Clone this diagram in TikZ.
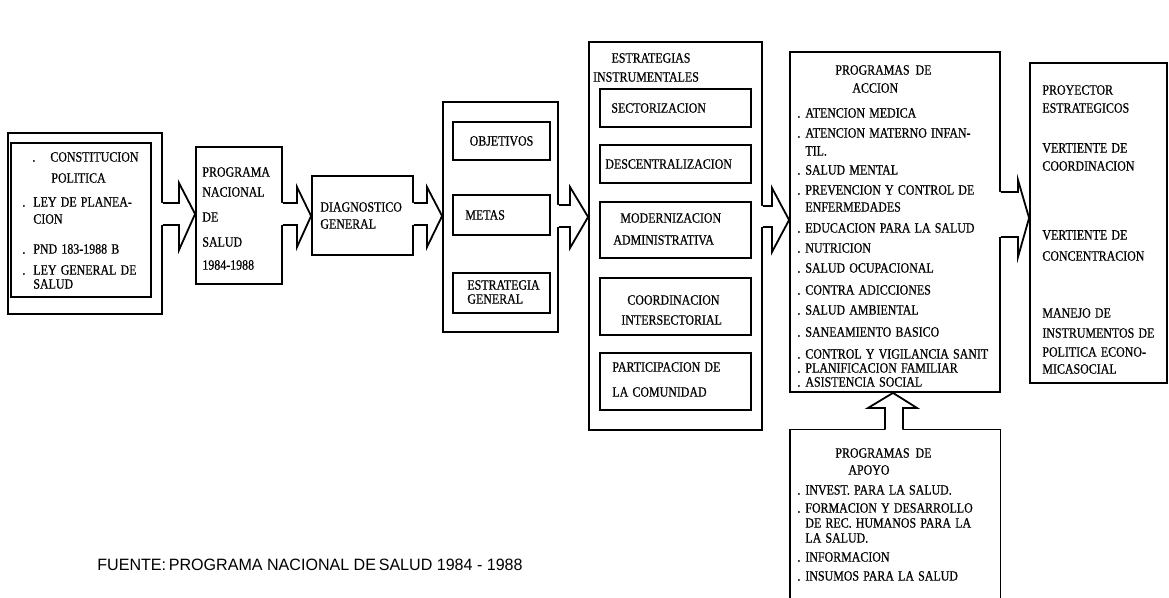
\documentclass[tikz,border=0pt]{standalone}
\usepackage{fontspec}
\setmainfont{Liberation Serif}
\newfontfamily\typ[FakeStretch=0.84,WordSpace=1.4,FakeBold=0.6]{Liberation Serif}
\newfontfamily\fte[FakeStretch=0.98]{Liberation Sans}
\usetikzlibrary{fit,calc}
\newcommand\dotb[1][5.5pt]{\makebox[#1][l]{.}}
\tikzset{
  box/.style={draw, line width=0.9pt, inner sep=0pt},
  txt/.style={anchor=west, inner sep=0pt, font=\typ\fontsize{7.1pt}{8pt}\selectfont},
  ctxt/.style={txt, anchor=center},
  arr/.style={line width=0.9pt, line join=miter},
}
\newcommand\blkarrow[8]{%
  \fill[white] ($(#1.east |- 0,#3)+(-2,0)$) -- (#5,#3) -- (#5,#6) -- (#2.west |- 0,#8) -- (#5,#7) -- (#5,#4) -- ($(#1.east |- 0,#4)+(-2,0)$) -- cycle;
  \draw[arr] (#1.east |- 0,#3) -- (#5,#3) -- (#5,#6) -- (#2.west |- 0,#8) -- (#5,#7) -- (#5,#4) -- (#1.east |- 0,#4);
}
\begin{document}
\begin{tikzpicture}[x=0.5pt,y=-0.5pt]
\useasboundingbox (0,0) rectangle (1169,598);
% boxes
\node[box, fit={(8,133)(162,314)}] (Lout) {};
\node[box, fit={(11,143)(151,297)}] (Lin) {};
\node[box, fit={(196,147)(282,284)}] (Pnal) {};
\node[box, fit={(312,176)(413,255)}] (Diag) {};
\node[box, fit={(443,102)(558,332)}] (Obj) {};
\node[box, fit={(453,122)(550,160)}] (Objv) {};
\node[box, fit={(453,195)(550,235)}] (Metas) {};
\node[box, fit={(453,273)(550,313)}] (EstG) {};
\node[box, fit={(589,42)(762,430)}] (Estr) {};
\node[box, fit={(600,89)(751,127)}] (Sect) {};
\node[box, fit={(600,145)(751,183)}] (Desc) {};
\node[box, fit={(600,202)(751,258)}] (Mod) {};
\node[box, fit={(600,278)(751,335)}] (Coord) {};
\node[box, fit={(600,353)(751,410)}] (Part) {};
\node[box, fit={(790,52)(1000,392)}] (Acc) {};
\node[box, fit={(1030,63)(1167,383)}] (Proy) {};
\node[inner sep=0pt, fit={(790,430)(1000,598)}] (Apoyo) {};
\draw[arr] (Apoyo.south west) -- (Apoyo.north west) -- (Apoyo.north east) -- (Apoyo.south east);
% block arrows
\blkarrow{Lout}{Pnal}{203}{225}{179}{183}{250}{214}
\blkarrow{Pnal}{Diag}{203}{225}{297}{187}{247}{216}
\blkarrow{Diag}{Obj}{203}{225}{427}{187}{247}{216}
\blkarrow{Obj}{Estr}{205}{227}{570}{187}{248}{217}
\blkarrow{Estr}{Acc}{206}{227}{772}{188}{252}{220}
\blkarrow{Acc}{Proy}{192}{237}{1018}{180}{257}{218}
\fill[white] (885,432) -- (885,408) -- (868,408) -- (893,0 |- Acc.south) -- (917,408) -- (903,408) -- (903,432) -- cycle;
\draw[arr] (885,0 |- Apoyo.north) -- (885,408) -- (868,408) -- (893,0 |- Acc.south) -- (917,408) -- (903,408) -- (903,0 |- Apoyo.north);
% left list
\node[txt] (l1) at (32,157) {\dotb[9pt]CONSTITUCION};
\node[txt] (l2) at (51,178) {POLITICA};
\node[txt] (l3) at (22,202) {\dotb LEY DE PLANEA-};
\node[txt] (l4) at (33,219) {CION};
\node[txt] (l5) at (22,249) {\dotb PND 183-1988 B};
\node[txt] (l6) at (22,270) {\dotb LEY GENERAL DE};
\node[txt] (l7) at (33,284) {SALUD};
% programa nacional
\foreach \y/\t [count=\i] in {172/PROGRAMA,192/NACIONAL,217/DE,242/SALUD,265/1984-1988}
  \node[txt] (p\i) at (202,\y) {\t};
% diagnostico
\node[txt] (d1) at (320,207) {DIAGNOSTICO};
\node[txt] (d2) at (320,224) {GENERAL};
% objetivos
\node[ctxt] (o1) at (Objv.center) {OBJETIVOS};
\node[txt] (o2) at (465,215) {METAS};
\node[txt] (o3) at (467,285) {ESTRATEGIA};
\node[txt] (o4) at (467,299) {GENERAL};
% estrategias instrumentales
\node[ctxt] (e1) at (651,58) {ESTRATEGIAS};
\node[ctxt] (e2) at (646,77) {INSTRUMENTALES};
\node[txt] (e3) at (611,108) {SECTORIZACION};
\node[txt] (e4) at (605,164) {DESCENTRALIZACION};
\node[txt] (e5) at (620,218) {MODERNIZACION};
\node[txt] (e6) at (613,240) {ADMINISTRATIVA};
\node[txt] (e7) at (627,300) {COORDINACION};
\node[txt] (e8) at (621,320) {INTERSECTORIAL};
\node[txt] (e9) at (612,367) {PARTICIPACION DE};
\node[txt] (e10) at (612,392) {LA COMUNIDAD};
% programas de accion
\node[txt] (a0) at (835,70) {PROGRAMAS\hspace{3pt}DE};
\node[txt] (a00) at (852,88) {ACCION};
\foreach \y/\t [count=\i] in {113/\dotb[4pt]ATENCION MEDICA,133/\dotb[4pt]ATENCION MATERNO INFAN-,151/\hspace{4pt}TIL.,170/\dotb[4pt]SALUD MENTAL,190/\dotb[4pt]PREVENCION Y CONTROL DE,207/\hspace{4pt}ENFERMEDADES,228/\dotb[4pt]EDUCACION PARA LA SALUD,248/\dotb[4pt]NUTRICION,268/\dotb[4pt]SALUD OCUPACIONAL,290/\dotb[4pt]CONTRA ADICCIONES,310/\dotb[4pt]SALUD AMBIENTAL,332/\dotb[4pt]SANEAMIENTO BASICO,354/\dotb[4pt]CONTROL Y VIGILANCIA SANIT,368/\dotb[4pt]PLANIFICACION FAMILIAR,382/\dotb[4pt]ASISTENCIA SOCIAL}
  \node[txt] (a\i) at (797,\y) {\t};
% proyectos
\foreach \y/\t [count=\i] in {90/PROYECTOR,108/ESTRATEGICOS,148/VERTIENTE DE,166/COORDINACION,235/VERTIENTE DE,256/CONCENTRACION,313/MANEJO DE,333/INSTRUMENTOS DE,352/POLITICA ECONO-,369/MICASOCIAL}
  \node[txt] (r\i) at (1042,\y) {\t};
% programas de apoyo
\node[txt] (b0) at (835,453) {PROGRAMAS\hspace{3pt}DE};
\node[txt] (b00) at (848,470) {APOYO};
\foreach \y/\t [count=\i] in {490/\dotb[4pt]INVEST. PARA LA SALUD.,508/\dotb[4pt]FORMACION Y DESARROLLO,523/\hspace{4pt}DE REC. HUMANOS PARA LA,538/\hspace{4pt}LA SALUD.,557/\dotb[4pt]INFORMACION,576/\dotb[4pt]INSUMOS PARA LA SALUD}
  \node[txt] (b\i) at (797,\y) {\t};
% fuente
\node[anchor=west, inner sep=0pt, font=\fte\fontsize{8.2pt}{9pt}\selectfont] (f) at (97,565) {FUENTE:\,PROGRAMA NACIONAL DE\,SALUD 1984 - 1988};
\end{tikzpicture}
\end{document}
